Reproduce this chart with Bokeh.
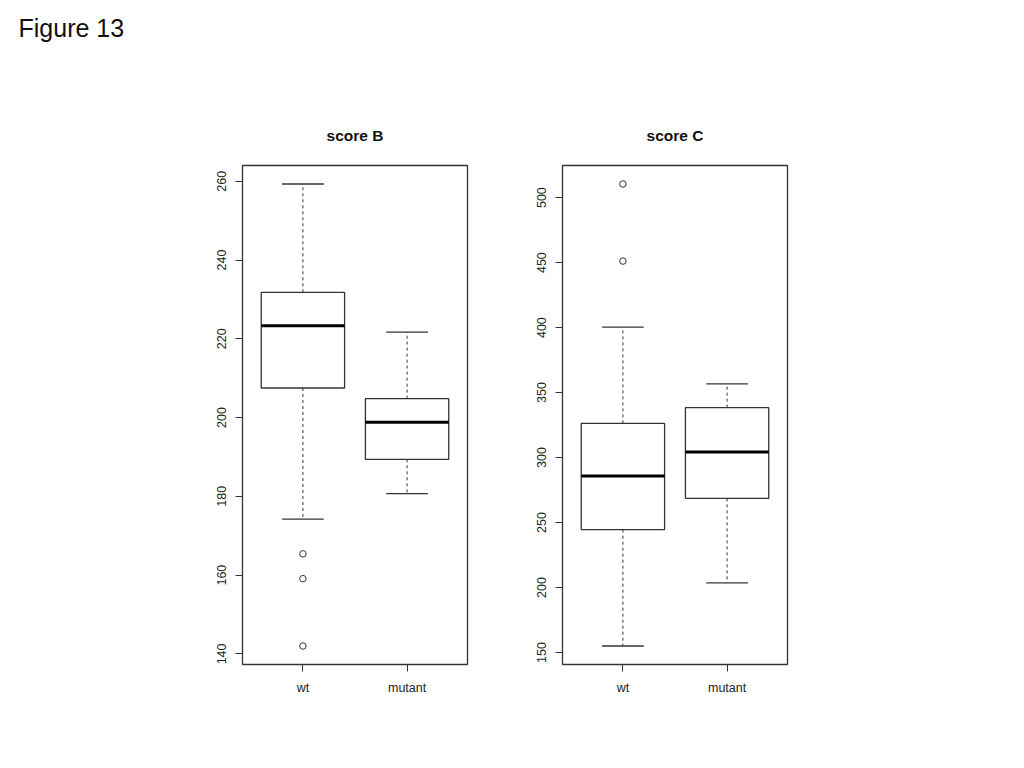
from bokeh.plotting import figure
from bokeh.layouts import column, row
from bokeh.models import Range1d, FixedTicker, ColumnDataSource
from bokeh.embed import file_html
from bokeh.resources import INLINE
from bokeh.core.properties import value

# ---- data ----
groups = ["wt", "mutant"]

b_lower = [174.2, 180.7]
b_q1 = [207.5, 189.4]
b_median = [223.3, 198.8]
b_q3 = [231.8, 204.8]
b_upper = [259.3, 221.7]
b_out_group = ["wt", "wt", "wt"]
b_out_value = [165.4, 159.1, 142.0]
b_ticks = [140, 160, 180, 200, 220, 240, 260]

c_lower = [155.0, 203.6]
c_q1 = [244.5, 268.6]
c_median = [285.8, 304.3]
c_q3 = [326.3, 338.4]
c_upper = [400.3, 356.7]
c_out_group = ["wt", "wt"]
c_out_value = [510.5, 451.2]
c_ticks = [150, 200, 250, 300, 350, 400, 450, 500]

FONT = "Liberation Sans"
LINE = "#333333"


def panel(title, lower, q1, med, q3, upper, out_group, out_value, ticks,
          border_left, border_right):
    xs = [i + 1 for i in range(len(groups))]
    all_vals = lower + upper + out_value
    vmin, vmax = min(all_vals), max(all_vals)
    pad = 0.04 * (vmax - vmin)
    xpad = 0.04 * (len(groups))
    p = figure(output_backend="svg", toolbar_location=None,
               frame_width=225, frame_height=499,
               min_border_left=border_left, min_border_right=border_right,
               min_border_top=57, min_border_bottom=56,
               x_range=Range1d(0.5 - xpad, len(groups) + 0.5 + xpad),
               y_range=Range1d(vmin - pad, vmax + pad),
               title=title)
    p.background_fill_color = "white"
    p.border_fill_color = "white"
    p.outline_line_color = LINE
    p.outline_line_width = 1.3
    p.grid.visible = False

    p.title.text_font = FONT
    p.title.text_font_size = "15.5px"
    p.title.text_font_style = "bold"
    p.title.text_color = "#111111"
    p.title.align = "center"
    p.title.standoff = 44

    src = ColumnDataSource(dict(x=xs, lower=lower, q1=q1, med=med, q3=q3, upper=upper,
                                left=[x - 0.4 for x in xs], right=[x + 0.4 for x in xs],
                                cl=[x - 0.2 for x in xs], cr=[x + 0.2 for x in xs]))
    # whiskers (dashed)
    p.segment(x0="x", y0="q3", x1="x", y1="upper", source=src, line_color=LINE,
              line_width=1, line_dash="3 3")
    p.segment(x0="x", y0="q1", x1="x", y1="lower", source=src, line_color=LINE,
              line_width=1, line_dash="3 3")
    # caps
    p.segment(x0="cl", y0="upper", x1="cr", y1="upper", source=src, line_color=LINE, line_width=1.3)
    p.segment(x0="cl", y0="lower", x1="cr", y1="lower", source=src, line_color=LINE, line_width=1.3)
    # boxes
    p.quad(left="left", right="right", bottom="q1", top="q3", source=src,
           fill_color="white", line_color=LINE, line_width=1.3)
    # medians
    p.segment(x0="left", y0="med", x1="right", y1="med", source=src,
              line_color="black", line_width=3)
    # outliers
    ox = [groups.index(g) + 1 for g in out_group]
    p.scatter(ox, out_value, marker="circle", size=6.5, fill_color=None,
              line_color=LINE, line_width=1)

    # axes
    ax = p.yaxis[0]
    ax.ticker = FixedTicker(ticks=ticks)
    ax.bounds = (ticks[0], ticks[-1])
    ax.major_label_orientation = "vertical"
    ax.major_tick_out = 7
    ax.major_tick_in = 0
    ax.minor_tick_out = 0
    ax.minor_tick_in = 0
    ax.major_label_standoff = 9
    ax.major_label_text_font = FONT
    ax.major_label_text_font_size = "12.5px"
    ax.major_label_text_color = "#222222"
    ax.axis_line_color = LINE
    ax.major_tick_line_color = LINE

    bx = p.xaxis[0]
    bx.ticker = FixedTicker(ticks=xs)
    bx.major_label_overrides = {x: g for x, g in zip(xs, groups)}
    bx.major_tick_out = 7
    bx.major_tick_in = 0
    bx.minor_tick_out = 0
    bx.minor_tick_in = 0
    bx.major_label_standoff = 9
    bx.major_label_text_font = FONT
    bx.major_label_text_font_size = "12.5px"
    bx.major_label_text_color = "#222222"
    bx.axis_line_color = LINE
    bx.major_tick_line_color = LINE
    return p


pb = panel("score B", b_lower, b_q1, b_median, b_q3, b_upper, b_out_group, b_out_value,
           b_ticks, 242, 47)
pc = panel("score C", c_lower, c_q1, c_median, c_q3, c_upper, c_out_group, c_out_value,
           c_ticks, 48, 50)

# heading strip
head = figure(output_backend="svg", toolbar_location=None, frame_width=1008, frame_height=102,
              x_range=Range1d(0, 1008), y_range=Range1d(0, 102), min_border=0)
head.axis.visible = False
head.grid.visible = False
head.outline_line_color = None
head.text(x=[18], y=[75], text=["Figure 13"], text_font=value(FONT),
          text_font_size="25px", text_color="#111111", text_baseline="alphabetic",
          text_align="left")

layout = column(head, row(pb, pc))
open("out.html", "w").write(file_html(layout, INLINE))
